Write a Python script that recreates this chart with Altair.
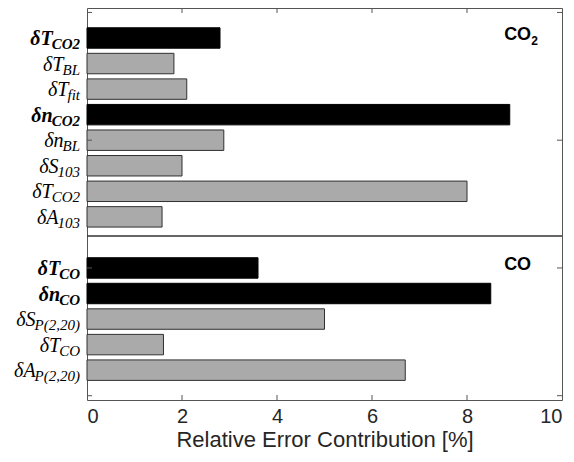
import altair as alt
import pandas as pd

# ---- data ----
main_labels = ["δT", "δT", "δT", "δn", "δn", "δS", "δT", "δA",
               "δT", "δn", "δS", "δT", "δA"]
sub_labels = ["CO2", "BL", "fit", "CO2", "BL", "103", "CO2", "103",
              "CO", "CO", "P(2,20)", "CO", "P(2,20)"]
emphasis = ["key", "other", "other", "key", "other", "other", "other", "other",
            "key", "key", "other", "other", "other"]
values = [2.8, 1.83, 2.1, 8.9, 2.88, 2.0, 8.0, 1.58,
          3.6, 8.5, 5.0, 1.61, 6.7]
positions = [1, 2, 3, 4, 5, 6, 7, 8,
             10, 11, 12, 13, 14]

panel_names = ["CO", "CO"]
panel_subs = ["2", ""]
panel_x = [9.35, 9.35]
panel_pos = [0.88, 9.88]

x_ticks = [0, 2, 4, 6, 8, 10]
y_ticks = [0, 5, 10, 15]
dividers = [8.75]

# ---- layout / style ----
W, H = 475, 392
PX_PER_UNIT = W / 10
MAIN_SIZE, SUB_SIZE = 20, 15
SERIF = "Liberation Serif"
SANS = "Liberation Sans"
TEXT_COL = "#262626"

# approximate italic serif advance widths (em) to right-align composite labels
_w = {"C": .667, "O": .722, "2": .5, "B": .611, "L": .556, "f": .278, "i": .278,
      "t": .278, "1": .5, "0": .5, "3": .5, "P": .611, "(": .333, ",": .25, ")": .333}


def sub_width(s):
    return sum(_w.get(c, .5) for c in s) * SUB_SIZE


RIGHT = -7
df = pd.DataFrame({
    "main": main_labels, "sub": sub_labels, "emph": emphasis,
    "value": values, "p": positions,
})
df["sx"] = RIGHT / PX_PER_UNIT
df["mx"] = [(RIGHT - sub_width(s) + 1) / PX_PER_UNIT for s in sub_labels]

panels = pd.DataFrame({"name": panel_names, "sub": panel_subs,
                       "px": panel_x, "p": panel_pos})

xscale = alt.Scale(domain=[0, 10], nice=False, zero=False)
yscale = alt.Scale(domain=[-0.174, 15.168], reverse=True, nice=False, zero=False)
xaxis = alt.Axis(
    values=x_ticks, title="Relative Error Contribution [%]", grid=False,
    ticks=False, domain=False, format="d",
    labelFont=SANS, labelFontSize=20, labelColor=TEXT_COL, labelPadding=6,
    titleFont=SANS, titleFontSize=22, titleFontWeight="normal",
    titleColor=TEXT_COL, titlePadding=3)


def X(field):
    return alt.X(field, scale=xscale, axis=xaxis, title="Relative Error Contribution [%]")


def Y(field):
    return alt.Y(field, scale=yscale, axis=None)


bars = alt.Chart(df).transform_calculate(
    x0="0", y0="datum.p - 0.4", y1="datum.p + 0.4"
).mark_rect(strokeWidth=1).encode(
    x=X("x0:Q"),
    x2="value:Q",
    y=Y("y0:Q"),
    y2="y1:Q",
    fill=alt.Fill("emph:N", scale=alt.Scale(domain=["key", "other"],
                                            range=["#000000", "#aaaaaa"]), legend=None),
    stroke=alt.Stroke("emph:N", scale=alt.Scale(domain=["key", "other"],
                                                range=["#000000", "#303030"]), legend=None),
)

xt = pd.DataFrame({"t": x_ticks[1:-1]})
yt = pd.DataFrame({"t": y_ticks})
tick_col = "#555555"
xtick_top = alt.Chart(xt).mark_rule(color=tick_col).encode(
    x=X("t:Q"), y=alt.value(0), y2=alt.value(5))
xtick_bot = alt.Chart(xt).mark_rule(color=tick_col).encode(
    x=X("t:Q"), y=alt.value(H), y2=alt.value(H - 5))
ytick_l = alt.Chart(yt).mark_rule(color=tick_col).encode(
    y=Y("t:Q"), x=alt.value(0), x2=alt.value(5))
ytick_r = alt.Chart(yt).mark_rule(color=tick_col).encode(
    y=Y("t:Q"), x=alt.value(W - 5), x2=alt.value(W))

divider = alt.Chart(pd.DataFrame({"d": dividers})).mark_rule(
    color="#333333", strokeWidth=1.5).encode(
    y=Y("d:Q"), x=alt.value(0), x2=alt.value(W))


def label_layers(kind, weight):
    base = alt.Chart(df).transform_filter(alt.datum.emph == kind)
    m = base.mark_text(align="right", baseline="middle", font=SERIF,
                       fontSize=MAIN_SIZE, fontStyle="italic", fontWeight=weight,
                       color="#000000", dy=1).encode(
        x=X("mx:Q"), y=Y("p:Q"), text="main:N")
    s = base.mark_text(align="right", baseline="middle", font=SERIF,
                       fontSize=SUB_SIZE, fontStyle="italic", fontWeight=weight,
                       color="#000000", dy=6).encode(
        x=X("sx:Q"), y=Y("p:Q"), text="sub:N")
    return [m, s]


panel_main = alt.Chart(panels).mark_text(
    align="right", baseline="middle", font=SANS, fontSize=18, fontWeight="bold",
    color="#000000").encode(x=X("px:Q"), y=Y("p:Q"), text="name:N")
panel_sub = alt.Chart(panels).mark_text(
    align="left", baseline="middle", font=SANS, fontSize=12, fontWeight="bold",
    color="#000000", dx=0, dy=6).encode(x=X("px:Q"), y=Y("p:Q"), text="sub:N")

chart = alt.layer(
    bars, xtick_top, xtick_bot, ytick_l, ytick_r, divider,
    *label_layers("key", "bold"), *label_layers("other", "normal"),
    panel_main, panel_sub,
).properties(
    width=W, height=H,
    autosize=alt.AutoSizeParams(type="none"),
    padding={"left": 79, "top": 0, "right": 4, "bottom": 54},
    background="white",
).configure_view(stroke="#555555", strokeWidth=1)

chart.save("out.html", embed_options={"renderer": "svg", "actions": False})
